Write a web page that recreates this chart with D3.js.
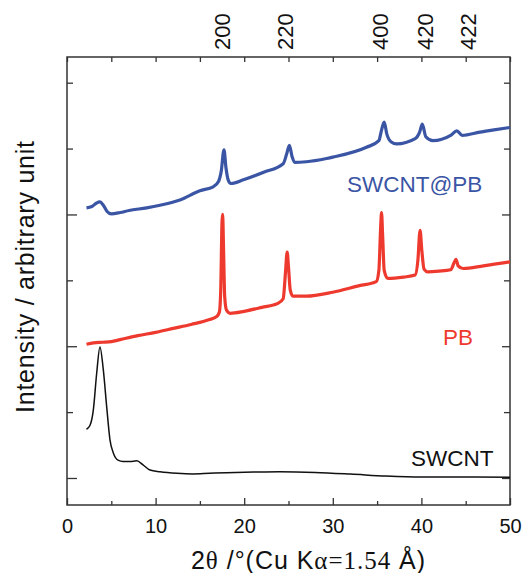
<!DOCTYPE html>
<html>
<head>
<meta charset="utf-8">
<script src="https://cdnjs.cloudflare.com/ajax/libs/d3/7.8.5/d3.min.js"></script>
<style>
  body { margin: 0; background: #fff; }
  svg text { font-family: "Liberation Sans", Arial, sans-serif; }
  .axis path { display: none; }
  .axis line { stroke: #333; stroke-width: 1.3; }
  .axis text { font-size: 20px; fill: #111; }
</style>
</head>
<body>
<svg id="chart" width="528" height="573"></svg>
<script>
// 2theta (deg) / intensity (arbitrary units, one unit per y tick)
const swcntX = [2.2, 2.6, 2.97, 3.35, 3.72, 4.1, 4.48, 4.85, 5.23, 5.76, 6.32, 7.11, 7.87, 8.58, 9.37, 10.5, 12.4, 14.2, 16.1, 18.0, 21.8, 24.0, 28.0, 32.0, 36.0, 40.0, 45.0, 50.0];
const swcntY = [0.74, 0.80, 1.03, 1.59, 1.99, 1.64, 1.08, 0.58, 0.38, 0.27, 0.25, 0.25, 0.26, 0.20, 0.12, 0.095, 0.071, 0.061, 0.071, 0.08, 0.091, 0.095, 0.085, 0.06, 0.03, 0.015, 0.015, 0.01];

const pbX = [2.2, 3.0, 4.0, 5.0, 6.0, 8.0, 10.0, 12.0, 14.0, 16.0, 16.9, 17.2, 17.35, 17.5, 17.57, 17.65, 17.8, 18.0, 18.4, 20.0, 22.0, 23.8, 24.4, 24.65, 24.85, 25.0, 25.2, 25.5, 27.0, 30.0, 33.0, 34.9, 35.2, 35.4, 35.5, 35.62, 35.8, 36.2, 38.0, 39.3, 39.6, 39.85, 40.05, 40.3, 40.7, 42.0, 43.3, 43.7, 43.9, 44.15, 44.7, 47.0, 50.0];
const pbY = [2.03, 2.05, 2.06, 2.07, 2.10, 2.16, 2.21, 2.27, 2.33, 2.40, 2.45, 2.52, 2.85, 3.9, 4.0, 3.6, 2.75, 2.55, 2.5, 2.53, 2.59, 2.65, 2.72, 3.1, 3.43, 3.2, 2.85, 2.76, 2.76, 2.82, 2.92, 2.98, 3.15, 3.8, 4.03, 3.7, 3.15, 3.03, 3.05, 3.08, 3.3, 3.76, 3.45, 3.17, 3.13, 3.14, 3.16, 3.27, 3.32, 3.22, 3.18, 3.22, 3.28];

const mixX = [2.2, 2.8, 3.3, 3.7, 4.1, 4.5, 5.0, 6.0, 7.0, 9.0, 10.5, 12.75, 15.0, 16.5, 17.1, 17.4, 17.72, 17.95, 18.2, 18.5, 20.0, 22.2, 24.4, 24.8, 25.1, 25.4, 25.7, 27.0, 29.3, 30.0, 33.8, 35.2, 35.5, 35.8, 36.1, 36.6, 37.2, 39.3, 39.8, 40.1, 40.5, 41.3, 43.3, 44.0, 44.6, 46.6, 48.0, 50.0];
const mixY = [4.10, 4.12, 4.17, 4.19, 4.14, 4.05, 4.01, 4.03, 4.06, 4.10, 4.14, 4.22, 4.36, 4.42, 4.50, 4.65, 4.98, 4.7, 4.52, 4.47, 4.53, 4.64, 4.77, 4.92, 5.05, 4.88, 4.79, 4.80, 4.85, 4.87, 5.02, 5.12, 5.28, 5.40, 5.22, 5.1, 5.07, 5.15, 5.25, 5.37, 5.18, 5.12, 5.2, 5.27, 5.2, 5.25, 5.28, 5.32];

const xMajor = [0, 10, 20, 30, 40, 50];
const xMinor = [5, 15, 25, 35, 45];
const yMajor = [0, 2, 4];
const yMinor = [1, 3, 5, 6];
const hklPos = [17.5, 24.6, 35.3, 40.4, 45.3];
const hklLabels = ['200', '220', '400', '420', '422'];

const svg = d3.select('#chart');
const plotL = 67, plotR = 510, plotT = 57, plotB = 505;

const x = d3.scaleLinear().domain([0, 50]).range([plotL, plotR]);
const y = d3.scaleLinear().domain([-0.41, 6.39]).range([plotB, plotT]);

// ticks, all pointing inward
svg.append('g').attr('class', 'axis')
    .attr('transform', 'translate(0,' + plotB + ')')
    .call(d3.axisBottom(x).tickValues(xMajor).tickSize(-7).tickPadding(14).tickFormat(d3.format('d')));
svg.append('g').attr('class', 'axis')
    .attr('transform', 'translate(0,' + plotB + ')')
    .call(d3.axisBottom(x).tickValues(xMinor).tickSize(-4).tickFormat(''));
svg.append('g').attr('class', 'axis')
    .attr('transform', 'translate(0,' + plotT + ')')
    .call(d3.axisTop(x).tickValues(xMajor.concat(xMinor)).tickSize(-5).tickFormat(''));
svg.append('g').attr('class', 'axis')
    .attr('transform', 'translate(' + plotL + ',0)')
    .call(d3.axisLeft(y).tickValues(yMajor).tickSize(-10).tickFormat(''));
svg.append('g').attr('class', 'axis')
    .attr('transform', 'translate(' + plotL + ',0)')
    .call(d3.axisLeft(y).tickValues(yMinor).tickSize(-6).tickFormat(''));
svg.append('g').attr('class', 'axis')
    .attr('transform', 'translate(' + plotR + ',0)')
    .call(d3.axisRight(y).tickValues(yMajor).tickSize(-8).tickFormat(''));
svg.append('g').attr('class', 'axis')
    .attr('transform', 'translate(' + plotR + ',0)')
    .call(d3.axisRight(y).tickValues(yMinor).tickSize(-6).tickFormat(''));

svg.append('rect')
    .attr('x', plotL).attr('y', plotT)
    .attr('width', plotR - plotL).attr('height', plotB - plotT)
    .attr('fill', 'none').attr('stroke', '#333').attr('stroke-width', 1.5);

// curves
const line = d3.line().x(d => x(d[0])).y(d => y(d[1])).curve(d3.curveMonotoneX);
const series = [
    { xs: swcntX, ys: swcntY, color: '#111', w: 1.5 },
    { xs: pbX, ys: pbY, color: '#ee3a2e', w: 3.2 },
    { xs: mixX, ys: mixY, color: '#3b55a5', w: 3.2 }
];
series.forEach(function(s) {
    svg.append('path')
        .datum(s.xs.map((v, i) => [v, s.ys[i]]))
        .attr('d', line)
        .attr('fill', 'none')
        .attr('stroke', s.color)
        .attr('stroke-width', s.w)
        .attr('stroke-linejoin', 'round');
});

// series labels
svg.append('text').attr('x', 347).attr('y', 192).style('font-size', '22.5px').attr('fill', '#3b55a5').text('SWCNT@PB');
svg.append('text').attr('x', 443).attr('y', 345).style('font-size', '22.5px').attr('fill', '#ee3a2e').text('PB');
svg.append('text').attr('x', 411).attr('y', 466).style('font-size', '22.5px').attr('fill', '#111').text('SWCNT');

// hkl labels on top
svg.append('g').selectAll('text')
    .data(hklLabels)
    .enter()
    .append('text')
    .attr('transform', (d, i) => 'translate(' + x(hklPos[i]) + ',50) rotate(-90)')
    .attr('dy', '0.36em')
    .attr('text-anchor', 'start')
    .style('font-size', '22px')
    .attr('fill', '#111')
    .text(d => d);

// axis titles
svg.append('text')
    .attr('transform', 'translate(34,' + 277 + ') rotate(-90)')
    .attr('text-anchor', 'middle')
    .attr('textLength', 272)
    .attr('lengthAdjust', 'spacing')
    .style('font-size', '25px')
    .attr('fill', '#111')
    .text('Intensity / arbitrary unit');

const xt = svg.append('text')
    .attr('x', 308).attr('y', 569)
    .attr('text-anchor', 'middle')
    .attr('textLength', 234)
    .attr('lengthAdjust', 'spacing')
    .style('font-size', '25px')
    .attr('fill', '#111');
xt.append('tspan').text('2');
xt.append('tspan').style('font-family', '"Liberation Serif", "Times New Roman", serif').text('θ');
xt.append('tspan').text(' /°(Cu K');
xt.append('tspan').style('font-family', '"Liberation Serif", "Times New Roman", serif').text('α=1.54');
xt.append('tspan').text(' Å)');
</script>
</body>
</html>
